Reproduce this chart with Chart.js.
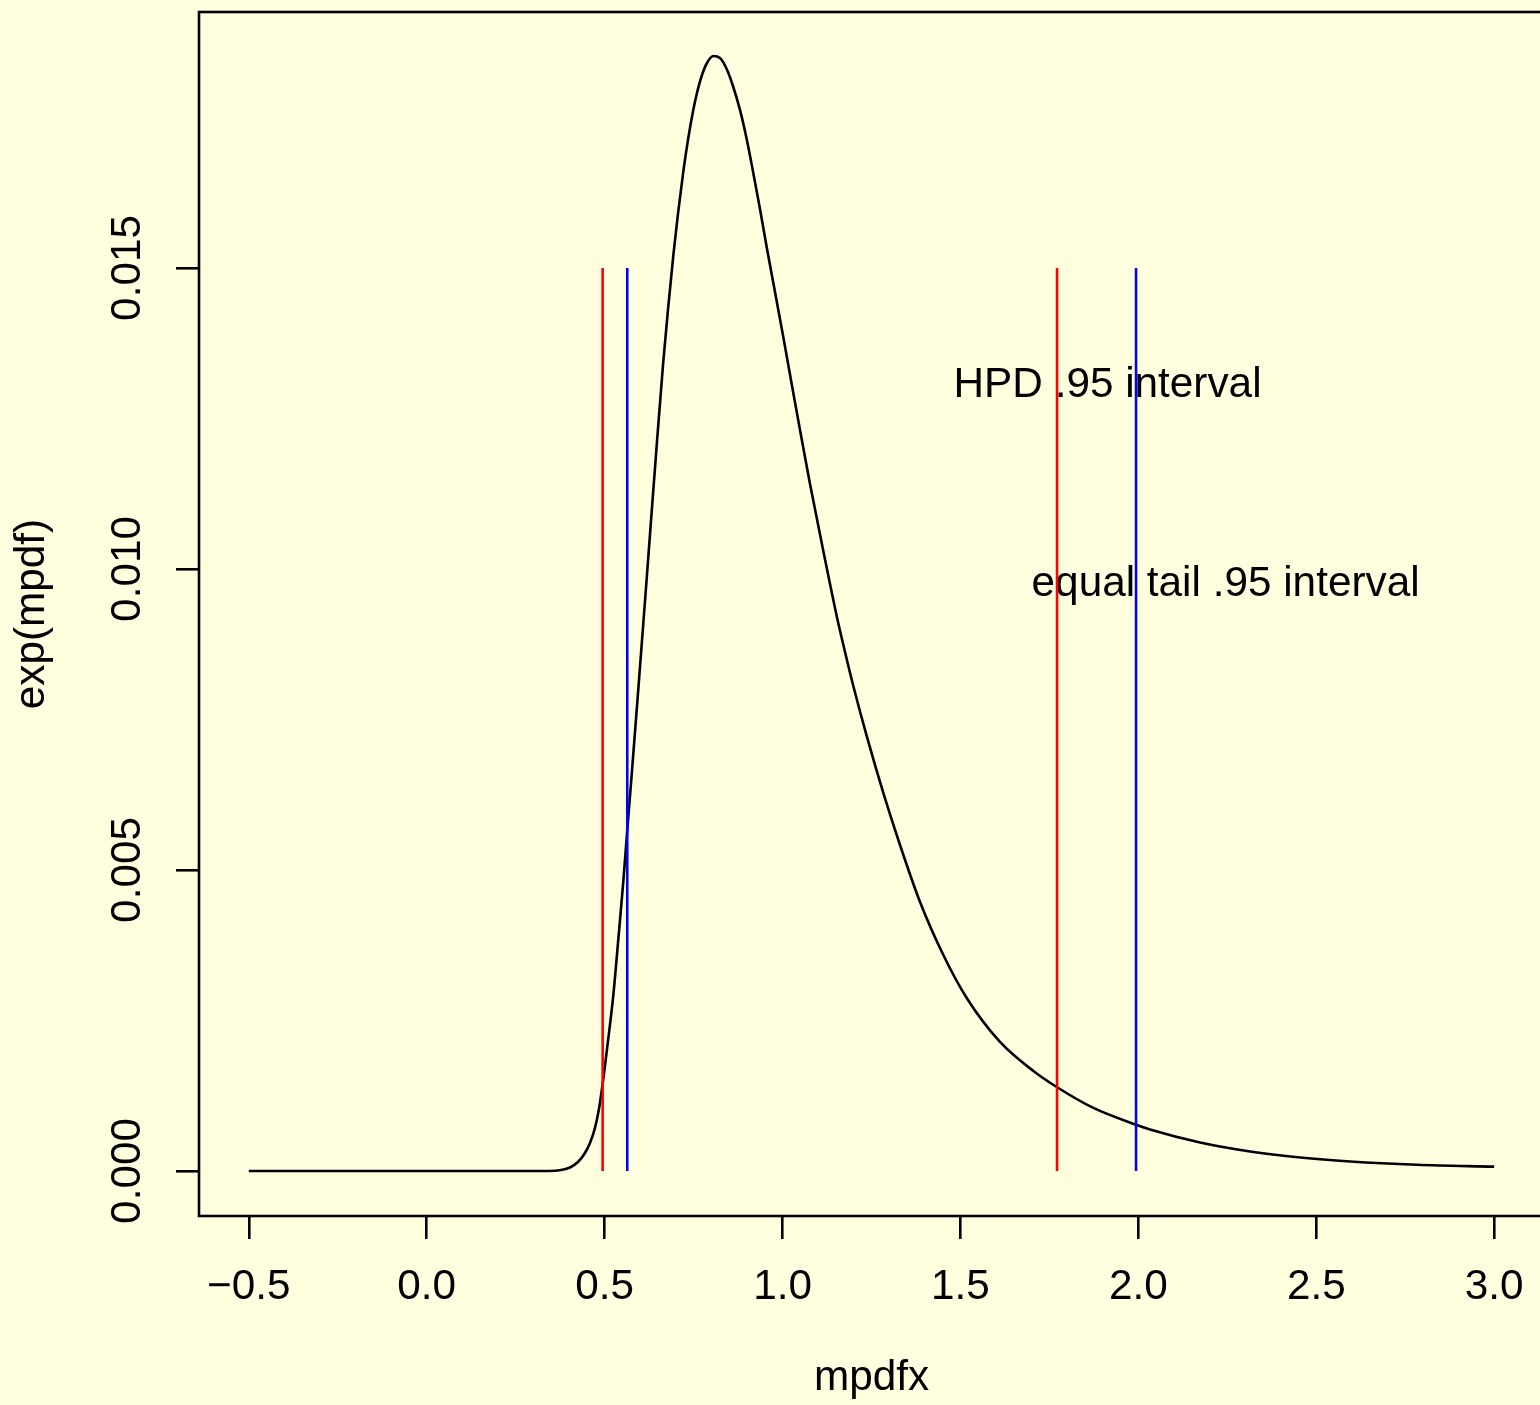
<!DOCTYPE html>
<html>
<head>
<meta charset="utf-8">
<script src="https://cdn.jsdelivr.net/npm/chart.js@4/dist/chart.umd.min.js"></script>
<style>
html, body { margin: 0; padding: 0; overflow: hidden; background: #FFFFE0; }
#wrap { width: 1560px; height: 1405px; }
canvas { display: block; }
</style>
</head>
<body>
<div id="wrap"><canvas id="c" width="1560" height="1405"></canvas></div>
<script>
// ---- data ----
const mpdfx = [-0.5, 0.0, 0.3435, 0.374, 0.4025, 0.425, 0.4447, 0.4588, 0.4728, 0.484, 0.4944, 0.5074,
  0.5242, 0.5383, 0.5524, 0.5636, 0.576, 0.5945, 0.6162, 0.6322, 0.6471, 0.6648, 0.678, 0.6929,
  0.7061, 0.721, 0.7342, 0.7491, 0.7595, 0.7727, 0.7876, 0.8054, 0.8242, 0.843, 0.8607, 0.8804,
  0.8992, 0.9178, 0.9366, 0.9554, 0.9788, 1.0021, 1.0257, 1.0491, 1.0772, 1.1146, 1.1522, 1.1756,
  1.1989, 1.2365, 1.2832, 1.3301, 1.3864, 1.4519, 1.5176, 1.6112, 1.7049, 1.7706, 1.8735, 1.9955,
  2.0329, 2.1734, 2.314, 2.4548, 2.5951, 2.7826, 3.0];
const expMpdf = [0, 0, 0, 0.0000116, 0.0000581, 0.0001495, 0.000299, 0.000465, 0.000714, 0.00103, 0.001445, 0.00206,
  0.002907, 0.003837, 0.004801, 0.005664, 0.006578, 0.00799, 0.009684, 0.010947, 0.01211, 0.013439, 0.014302, 0.015199,
  0.015897, 0.016595, 0.017126, 0.017625, 0.017907, 0.018189, 0.018405, 0.018522, 0.018488, 0.018306, 0.018023, 0.017625,
  0.017143, 0.016578, 0.01598, 0.015349, 0.014601, 0.013854, 0.013073, 0.012309, 0.011412, 0.010299, 0.009219, 0.008621,
  0.008056, 0.007226, 0.006279, 0.005415, 0.004468, 0.003588, 0.002874, 0.002143, 0.001661, 0.001395, 0.001047, 0.000764,
  0.000689, 0.000473, 0.000324, 0.000224, 0.000158, 0.000103, 0.0000714];

const hpdBounds = [0.4944, 1.7715];        // red
const equalTailBounds = [0.5636, 1.9935];  // blue
const intervalTop = 0.015;

const xTicks = [-0.5, 0.0, 0.5, 1.0, 1.5, 2.0, 2.5, 3.0];
const xTickLabels = ['\u22120.5', '0.0', '0.5', '1.0', '1.5', '2.0', '2.5', '3.0'];
const yTicks = [0.000, 0.005, 0.010, 0.015];
const yTickLabels = ['0.000', '0.005', '0.010', '0.015'];

const noteTexts = ['HPD .95 interval', 'equal tail .95 interval'];
const noteX = [1.9134, 2.2451];
const noteY = [0.01311, 0.009804];

const xTitle = 'mpdfx';
const yTitle = 'exp(mpdf)';

// ---- chart ----
const FONT = '"Liberation Sans", Arial, Helvetica, sans-serif';
const FS = 42.3;
const LW = 2.6;

const curve = mpdfx.map((v, i) => ({ x: v, y: expMpdf[i] }));
function vline(xv) { return [{ x: xv, y: 0 }, { x: xv, y: intervalTop }]; }

const datasets = [];
hpdBounds.forEach(b => datasets.push({ data: vline(b), borderColor: '#FF0000', borderWidth: LW, pointRadius: 0, showLine: true, order: 1 }));
equalTailBounds.forEach(b => datasets.push({ data: vline(b), borderColor: '#0000FF', borderWidth: LW, pointRadius: 0, showLine: true, order: 1 }));
datasets.push({ data: curve, borderColor: '#000000', borderWidth: LW, pointRadius: 0, showLine: true, cubicInterpolationMode: 'monotone', order: 2 });

const notesPlugin = {
  id: 'notes',
  beforeDatasetsDraw(chart) {
    const { ctx, scales: { x, y } } = chart;
    ctx.save();
    ctx.font = FS + 'px ' + FONT;
    ctx.fillStyle = '#000';
    ctx.textAlign = 'center';
    ctx.textBaseline = 'alphabetic';
    noteTexts.forEach((t, i) => {
      ctx.fillText(t, x.getPixelForValue(noteX[i]), y.getPixelForValue(noteY[i]) + 0.358 * FS);
    });
    ctx.restore();
  },
  afterDraw(chart) {
    const { ctx, chartArea: a } = chart;
    ctx.save();
    ctx.strokeStyle = '#000';
    ctx.lineWidth = LW;
    ctx.strokeRect(a.left, a.top, a.right - a.left, a.bottom - a.top);
    ctx.restore();
  }
};

const gridOpts = { drawOnChartArea: false, drawTicks: true, tickLength: 23, tickColor: '#000', tickWidth: LW, lineWidth: LW };
function noPad(s) { s.paddingTop = 0; s.paddingBottom = 0; s.paddingLeft = 0; s.paddingRight = 0; }

new Chart(document.getElementById('c'), {
  type: 'scatter',
  data: { datasets },
  plugins: [notesPlugin],
  options: {
    responsive: false,
    animation: false,
    devicePixelRatio: 1,
    layout: { padding: { top: 12, right: 16, bottom: 0, left: 0 } },
    plugins: { legend: { display: false }, tooltip: { enabled: false } },
    scales: {
      x: {
        type: 'linear', min: -0.64, max: 3.14,
        afterBuildTicks: s => { s.ticks = xTicks.map(v => ({ value: v })); },
        afterFit: s => { s.height = 189; noPad(s); },
        grid: gridOpts,
        border: { display: false },
        ticks: {
          color: '#000', font: { family: FONT, size: FS }, padding: 22.6,
          autoSkip: false, minRotation: 0, maxRotation: 0,
          callback: (v, i) => xTickLabels[i]
        },
        title: { display: true, text: xTitle, color: '#000', font: { family: FONT, size: FS }, padding: { top: 0, bottom: 1.5 } }
      },
      y: {
        type: 'linear', min: -0.000748, max: 0.019252,
        afterBuildTicks: s => { s.ticks = yTicks.map(v => ({ value: v })); },
        afterFit: s => { s.width = 199; noPad(s); },
        grid: gridOpts,
        border: { display: false },
        ticks: {
          color: '#000', font: { family: FONT, size: FS }, padding: -5.2,
          autoSkip: false, minRotation: 90, maxRotation: 90, crossAlign: 'center',
          callback: (v, i) => yTickLabels[i]
        },
        title: { display: true, text: yTitle, color: '#000', font: { family: FONT, size: FS }, padding: { top: 6.6, bottom: 0 } }
      }
    }
  }
});
</script>
</body>
</html>
